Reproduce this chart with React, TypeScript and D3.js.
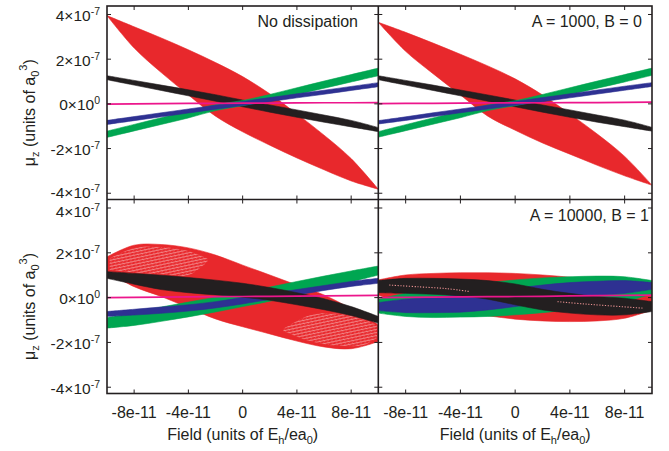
import React from 'react';
import * as d3 from 'd3';

// Field sample positions (units of 1e-11 Eh/ea0)
const FIELD = [-10, -8, -6, -4, -2, 0, 2, 4, 6, 8, 10];
const X_TICKS = [-8e-11, -4e-11, 0, 4e-11, 8e-11];
const X_TICK_LABELS = ['-8e-11', '-4e-11', '0', '4e-11', '8e-11'];
const Y_TICKS = [4e-7, 2e-7, 0, -2e-7, -4e-7];
const Y_TICK_MANT = ['4', '2', '0', '-2', '-4'];
const Y_TICK_EXP = ['-7', '-7', '0', '-7', '-7'];
const PANEL_LABELS = ['No dissipation', 'A = 1000, B = 0', '', 'A = 10000, B = 1'];

// μz envelopes (units of 1e-7 a0^3): upper / lower edge of each hysteresis band
// Top-left: No dissipation
const tlRedUp = [3.95, 3.45, 2.95, 2.42, 1.85, 1.22, 0.45, -0.45, -1.4, -2.45, -3.82];
const tlRedLo = [3.95, 2.5, 1.4, 0.4, -0.55, -1.25, -1.85, -2.42, -2.95, -3.45, -3.82];
const tlBlackUp = [1.26, 1.05, 0.84, 0.63, 0.41, 0.17, -0.05, -0.27, -0.5, -0.74, -1.06];
const tlBlackLo = [1.08, 0.84, 0.6, 0.36, 0.12, -0.13, -0.37, -0.6, -0.82, -1.03, -1.24];
const tlGreenUp = [-1.22, -0.92, -0.62, -0.32, -0.04, 0.15, 0.42, 0.72, 1.02, 1.31, 1.6];
const tlGreenLo = [-1.5, -1.21, -0.92, -0.63, -0.3, -0.08, 0.15, 0.42, 0.7, 0.98, 1.26];
const tlBlueUp = [-0.74, -0.57, -0.4, -0.23, -0.06, 0.11, 0.28, 0.45, 0.61, 0.78, 0.95];
const tlBlueLo = [-0.92, -0.75, -0.58, -0.41, -0.24, -0.07, 0.1, 0.27, 0.43, 0.6, 0.77];
const tlPink = [-0.01, 0.0, 0.01, 0.02, 0.02, 0.03, 0.03, 0.04, 0.05, 0.05, 0.06];

// Top-right: A = 1000, B = 0
const trRedUp = [3.65, 3.2, 2.72, 2.22, 1.7, 1.12, 0.4, -0.45, -1.35, -2.35, -3.64];
const trRedLo = [3.65, 2.35, 1.35, 0.4, -0.55, -1.18, -1.75, -2.25, -2.75, -3.22, -3.64];
const trBlackUp = [1.26, 1.05, 0.84, 0.62, 0.4, 0.17, -0.05, -0.27, -0.5, -0.73, -1.05];
const trBlackLo = [1.08, 0.84, 0.6, 0.36, 0.12, -0.13, -0.37, -0.6, -0.82, -1.02, -1.22];
const trGreenUp = [-1.24, -0.93, -0.63, -0.33, -0.05, 0.14, 0.42, 0.72, 1.02, 1.31, 1.6];
const trGreenLo = [-1.49, -1.2, -0.91, -0.62, -0.3, -0.08, 0.15, 0.42, 0.7, 0.98, 1.28];
const trBlueUp = [-0.75, -0.58, -0.4, -0.23, -0.06, 0.11, 0.28, 0.45, 0.62, 0.79, 0.95];
const trBlueLo = [-0.9, -0.74, -0.57, -0.4, -0.23, -0.06, 0.1, 0.27, 0.44, 0.61, 0.78];
const trPink = [0.01, 0.02, 0.02, 0.03, 0.04, 0.04, 0.05, 0.06, 0.06, 0.07, 0.08];

// Bottom-left
const blRedUp = [1.82, 2.34, 2.37, 2.22, 1.9, 1.45, 1.01, 0.56, 0.12, -0.5, -1.21];
const blRedLo = [1.16, 0.49, 0.05, -0.45, -0.95, -1.3, -1.62, -1.94, -2.2, -2.28, -1.96];
const blBlackUp = [1.16, 1.08, 1.0, 0.9, 0.78, 0.64, 0.45, 0.22, -0.05, -0.4, -0.84];
const blBlackLo = [0.86, 0.6, 0.36, 0.22, 0.12, 0.02, -0.12, -0.32, -0.54, -0.8, -1.14];
const blGreenUp = [-0.89, -0.66, -0.42, -0.2, 0.02, 0.24, 0.47, 0.72, 0.96, 1.19, 1.41];
const blGreenLo = [-1.36, -1.24, -1.06, -0.86, -0.64, -0.4, -0.16, 0.12, 0.4, 0.7, 1.01];
const blBlueUp = [-0.62, -0.52, -0.42, -0.32, -0.18, 0.0, 0.18, 0.36, 0.54, 0.72, 0.86];
const blBlueLo = [-0.84, -0.78, -0.7, -0.6, -0.46, -0.28, -0.08, 0.12, 0.32, 0.5, 0.64];
const blPink = [0.0, 0.01, 0.02, 0.03, 0.04, 0.05, 0.06, 0.07, 0.08, 0.09, 0.1];
// meshed (lighter) lobes of the bottom-left red loop
const blMeshLField = [-9.8, -8, -6, -4, -2.6];
const blMeshLUp = [1.75, 2.22, 2.26, 2.08, 1.75];
const blMeshLLo = [1.22, 1.12, 1.04, 1.0, 1.6];
const blMeshRField = [3, 5, 7, 9, 9.9];
const blMeshRUp = [-1.4, -0.78, -0.72, -0.98, -1.25];
const blMeshRLo = [-1.5, -1.95, -2.15, -2.1, -1.8];

// Bottom-right: A = 10000, B = 1
const brRedUp = [0.79, 1.01, 1.08, 1.11, 1.11, 1.08, 1.01, 0.91, 0.76, 0.52, 0.19];
const brRedLo = [0.12, -0.32, -0.55, -0.69, -0.81, -0.96, -1.04, -1.07, -1.04, -0.92, -0.55];
const brGreenUp = [-0.07, 0.19, 0.37, 0.52, 0.67, 0.79, 0.88, 0.93, 0.96, 0.93, 0.76];
const brGreenLo = [-0.69, -0.84, -0.89, -0.87, -0.84, -0.77, -0.67, -0.55, -0.4, -0.18, 0.16];
const brBlueUp = [-0.22, -0.07, 0.02, 0.12, 0.27, 0.42, 0.56, 0.67, 0.73, 0.76, 0.67];
const brBlueLo = [-0.58, -0.67, -0.67, -0.65, -0.55, -0.4, -0.25, -0.07, 0.08, 0.19, 0.37];
const brBlackUp = [0.76, 0.86, 0.86, 0.83, 0.76, 0.61, 0.37, 0.19, 0.05, -0.03, -0.18];
const brBlackLo = [0.22, 0.19, 0.15, 0.08, -0.07, -0.32, -0.55, -0.69, -0.77, -0.77, -0.62];
const brPink = [0.0, 0.01, 0.02, 0.03, 0.04, 0.05, 0.06, 0.08, 0.09, 0.1, 0.11];
// dotted inner traces visible inside the black loop
const brDotLField = [-9.2, -7, -5, -3.3];
const brDotL = [0.56, 0.48, 0.4, 0.27];
const brDotRField = [3.1, 5, 7, 9.3];
const brDotR = [-0.18, -0.28, -0.37, -0.47];

const RED = '#e8282c';
const GREEN = '#00a651';
const BLUE = '#2e3192';
const BLACK = '#231f20';
const PINK = '#ec168c';
const INK = '#231f20';
const FONT = 'Liberation Sans, Arial, Helvetica, sans-serif';

type Band = { color: string; up: number[]; lo: number[] };
type Mesh = { field: number[]; up: number[]; lo: number[] };
type Dots = { field: number[]; v: number[] };

const PANELS: { bands: Band[]; pink: number[]; mesh: Mesh[]; dots: Dots[] }[] = [
  {
    bands: [
      { color: RED, up: tlRedUp, lo: tlRedLo },
      { color: BLACK, up: tlBlackUp, lo: tlBlackLo },
      { color: GREEN, up: tlGreenUp, lo: tlGreenLo },
      { color: BLUE, up: tlBlueUp, lo: tlBlueLo },
    ],
    pink: tlPink,
    mesh: [],
    dots: [],
  },
  {
    bands: [
      { color: RED, up: trRedUp, lo: trRedLo },
      { color: BLACK, up: trBlackUp, lo: trBlackLo },
      { color: GREEN, up: trGreenUp, lo: trGreenLo },
      { color: BLUE, up: trBlueUp, lo: trBlueLo },
    ],
    pink: trPink,
    mesh: [],
    dots: [],
  },
  {
    bands: [
      { color: RED, up: blRedUp, lo: blRedLo },
      { color: GREEN, up: blGreenUp, lo: blGreenLo },
      { color: BLUE, up: blBlueUp, lo: blBlueLo },
      { color: BLACK, up: blBlackUp, lo: blBlackLo },
    ],
    pink: blPink,
    mesh: [
      { field: blMeshLField, up: blMeshLUp, lo: blMeshLLo },
      { field: blMeshRField, up: blMeshRUp, lo: blMeshRLo },
    ],
    dots: [],
  },
  {
    bands: [
      { color: RED, up: brRedUp, lo: brRedLo },
      { color: GREEN, up: brGreenUp, lo: brGreenLo },
      { color: BLUE, up: brBlueUp, lo: brBlueLo },
      { color: BLACK, up: brBlackUp, lo: brBlackLo },
    ],
    pink: brPink,
    mesh: [],
    dots: [
      { field: brDotLField, v: brDotL },
      { field: brDotRField, v: brDotR },
    ],
  },
];

const COLS = [
  [107, 378.3],
  [378.3, 652],
];
const ROWS = [
  [6, 199.5],
  [199.5, 393.5],
];

export default function App() {
  const W = 669;
  const H = 451;
  return (
    <svg
      width={W}
      height={H}
      style={{ position: 'absolute', left: 0, top: 0, background: '#fff' }}
      fontFamily={FONT}
    >
      <defs>
        {PANELS.map((_, i) => {
          const [x0, x1] = COLS[i % 2];
          const [y0, y1] = ROWS[Math.floor(i / 2)];
          return (
            <clipPath id={`clip${i}`} key={i}>
              <rect x={x0} y={y0} width={x1 - x0} height={y1 - y0} />
            </clipPath>
          );
        })}
        <pattern id="mesh" width="4" height="3" patternUnits="userSpaceOnUse" patternTransform="rotate(-12)">
          <rect width="4" height="3" fill={RED} />
          <path d="M0,1.5 L4,1.5" stroke="#fff" strokeWidth={0.6} opacity={0.75} />
          <path d="M1,0 L3,3" stroke="#fff" strokeWidth={0.45} opacity={0.5} />
        </pattern>
      </defs>
      {PANELS.map((p, i) => {
        const col = i % 2;
        const row = Math.floor(i / 2);
        const [x0, x1] = COLS[col];
        const [y0, y1] = ROWS[row];
        const x = d3.scaleLinear().domain([-1e-10, 1e-10]).range([x0, x1]);
        const y = d3.scaleLinear().domain([-4.28e-7, 4.38e-7]).range([y1, y0]);
        const area = (b: Band) =>
          d3
            .area<number>()
            .x((_, k) => x(FIELD[k] * 1e-11))
            .y0((_, k) => y(b.lo[k] * 1e-7))
            .y1((_, k) => y(b.up[k] * 1e-7))
            .curve(d3.curveCatmullRom.alpha(0.5))(b.up) as string;
        const meshArea = (m: Mesh) =>
          d3
            .area<number>()
            .x((_, k) => x(m.field[k] * 1e-11))
            .y0((_, k) => y(m.lo[k] * 1e-7))
            .y1((_, k) => y(m.up[k] * 1e-7))
            .curve(d3.curveCatmullRom.alpha(0.5))(m.up) as string;
        const dotLine = (dd: Dots) =>
          d3
            .line<number>()
            .x((_, k) => x(dd.field[k] * 1e-11))
            .y((v) => y(v * 1e-7))
            .curve(d3.curveCatmullRom)(dd.v) as string;
        const pinkLine = d3
          .line<number>()
          .x((_, k) => x(FIELD[k] * 1e-11))
          .y((v) => y(v * 1e-7))(p.pink) as string;
        const tl = 4;
        const labelDy = (k: number) => {
          if (row === 0 && k === Y_TICKS.length - 1) return 4.5;
          if (row === 1 && k === 0) return 9;
          return 6.5;
        };
        return (
          <g key={i}>
            <g clipPath={`url(#clip${i})`}>
              {p.bands.map((b, j) => (
                <React.Fragment key={j}>
                  <path d={area(b)} fill={b.color} stroke={b.color} strokeWidth={0.6} />
                  {j === 0 &&
                    p.mesh.map((m, q) => (
                      <path key={`m${q}`} d={meshArea(m)} fill="url(#mesh)" opacity={0.85} />
                    ))}
                </React.Fragment>
              ))}
              {p.dots.map((dd, q) => (
                <path
                  key={`d${q}`}
                  d={dotLine(dd)}
                  fill="none"
                  stroke="#e89090"
                  strokeWidth={1.1}
                  strokeDasharray="1.2 1.6"
                />
              ))}
              <path d={pinkLine} fill="none" stroke={PINK} strokeWidth={1.7} />
            </g>
            {/* ticks */}
            {X_TICKS.map((t, k) => (
              <g key={`xt${k}`} stroke={INK} strokeWidth={1}>
                <line x1={x(t)} x2={x(t)} y1={y1} y2={y1 - tl} />
                <line x1={x(t)} x2={x(t)} y1={y0} y2={y0 + tl} />
              </g>
            ))}
            {Y_TICKS.map((t, k) => (
              <g key={`yt${k}`} stroke={INK} strokeWidth={1}>
                <line x1={x0} x2={x0 + tl} y1={y(t)} y2={y(t)} />
                <line x1={x1} x2={x1 - tl} y1={y(t)} y2={y(t)} />
              </g>
            ))}
            {/* tick labels */}
            {col === 0 &&
              Y_TICKS.map((t, k) => (
                <text key={`yl${k}`} x={100} y={y(t) + labelDy(k)} textAnchor="end" fontSize={15.5} fill={INK}>
                  {Y_TICK_MANT[k]}×10
                  <tspan dy={-6} fontSize={10.5}>
                    {Y_TICK_EXP[k]}
                  </tspan>
                </text>
              ))}
            {row === 1 &&
              X_TICKS.map((t, k) => (
                <text key={`xl${k}`} x={x(t)} y={418} textAnchor="middle" fontSize={16} fill={INK}>
                  {X_TICK_LABELS[k]}
                </text>
              ))}
            {row === 1 && (
              <text x={(x0 + x1) / 2} y={440} textAnchor="middle" fontSize={16} fill={INK}>
                Field (units of E
                <tspan dy={4} fontSize={11}>h</tspan>
                <tspan dy={-4}>/ea</tspan>
                <tspan dy={4} fontSize={11}>0</tspan>
                <tspan dy={-4}>)</tspan>
              </text>
            )}
            {col === 0 && (
              <text
                transform={`translate(35,${(y0 + y1) / 2 + 10}) rotate(-90)`}
                textAnchor="middle"
                fontSize={16}
                fill={INK}
              >
                μ
                <tspan dy={4} fontSize={11}>z</tspan>
                <tspan dy={-4}> (units of a</tspan>
                <tspan dy={4} fontSize={11}>0</tspan>
                <tspan dy={-12} fontSize={11}>3</tspan>
                <tspan dy={8}>)</tspan>
              </text>
            )}
            {PANEL_LABELS[i] && (
              <text
                x={col === 0 ? 358 : i === 1 ? 642 : 649}
                y={row === 0 ? 27 : 221}
                textAnchor="end"
                fontSize={16}
                fill={INK}
              >
                {PANEL_LABELS[i]}
              </text>
            )}
          </g>
        );
      })}
      {/* frame */}
      <g fill="none" stroke={INK} strokeWidth={1.6}>
        <rect x={COLS[0][0]} y={ROWS[0][0]} width={COLS[1][1] - COLS[0][0]} height={ROWS[1][1] - ROWS[0][0]} />
        <line x1={COLS[0][1]} x2={COLS[0][1]} y1={ROWS[0][0]} y2={ROWS[1][1]} />
        <line x1={COLS[0][0]} x2={COLS[1][1]} y1={ROWS[0][1]} y2={ROWS[0][1]} />
      </g>
    </svg>
  );
}
